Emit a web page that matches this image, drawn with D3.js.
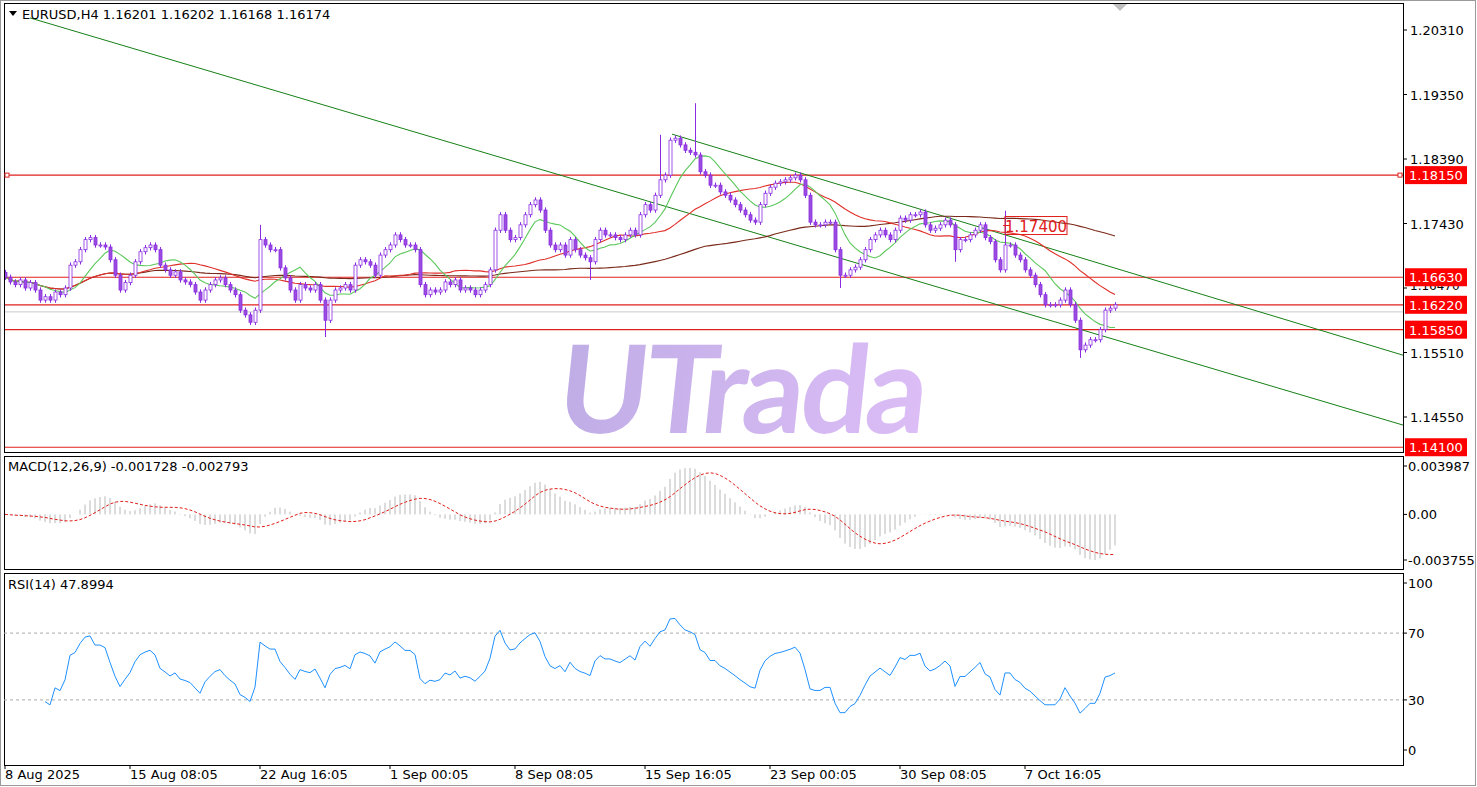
<!DOCTYPE html>
<html><head><meta charset="utf-8">
<script src="https://cdn.jsdelivr.net/npm/d3@7/dist/d3.min.js"></script>
<style>body{margin:0;background:#fff}svg{display:block;font-family:Tahoma,"DejaVu Sans",sans-serif}</style>
</head><body><svg id="c" width="1477" height="787"></svg>
<script>
const closes=[
1.1663,1.1656,1.1652,1.1659,1.1647,1.1655,1.1644,1.1629,1.1634,1.1629,
1.1641,1.1637,1.1647,1.1681,1.1686,1.1704,1.1719,1.1722,1.1711,1.1711,
1.1708,1.1689,1.1666,1.1644,1.1655,1.1666,1.1686,1.1701,1.1707,1.1711,
1.1704,1.1681,1.1674,1.1666,1.1671,1.1659,1.1656,1.1652,1.1641,1.1629,
1.1644,1.1652,1.1659,1.1662,1.1652,1.1644,1.1637,1.1614,1.1607,1.1596,
1.1614,1.1719,1.1711,1.1704,1.1704,1.1677,1.1662,1.1644,1.1629,1.1652,
1.1647,1.1644,1.1652,1.1629,1.1599,1.1629,1.1644,1.1647,1.1652,1.1644,
1.1681,1.1689,1.1686,1.1681,1.1666,1.1696,1.1704,1.1711,1.1726,1.1719,
1.1711,1.1711,1.1704,1.1652,1.1637,1.1644,1.1641,1.1644,1.1656,1.1652,
1.1659,1.1644,1.1647,1.1644,1.1637,1.1644,1.1652,1.1674,1.1733,1.1756,
1.1733,1.1719,1.1722,1.1741,1.1756,1.1771,1.1778,1.1763,1.1733,1.1711,
1.1704,1.1711,1.1696,1.1719,1.1704,1.1696,1.1692,1.1686,1.1719,1.1733,
1.1726,1.1726,1.1722,1.1719,1.1726,1.1733,1.1726,1.1756,1.1771,1.1763,
1.1785,1.1808,1.1815,1.1867,1.1870,1.1860,1.1852,1.1849,1.1845,1.1820,
1.1815,1.1800,1.1800,1.1790,1.1785,1.1778,1.1771,1.1763,1.1756,1.1748,
1.1745,1.1771,1.1788,1.1797,1.1803,1.1805,1.1808,1.1811,1.1815,1.1808,
1.1785,1.1745,1.1741,1.1741,1.1745,1.1745,1.1704,1.1666,1.1666,1.1674,
1.1678,1.1689,1.1704,1.1719,1.1726,1.1733,1.1726,1.1719,1.1733,1.1751,
1.1748,1.1756,1.1756,1.1760,1.1741,1.1733,1.1736,1.1741,1.1748,1.1741,
1.1704,1.1719,1.1719,1.1726,1.1733,1.1741,1.1722,1.1716,1.1689,1.1674,
1.1711,1.1711,1.1696,1.1689,1.1674,1.1666,1.1652,1.1637,1.1622,1.1622,
1.1622,1.1629,1.1644,1.1622,1.1599,1.1555,1.1562,1.1570,1.1570,1.1585,
1.1614,1.1617,1.1622];
const firstOpen=1.1670;
const bigHighs=[[51,1.1741],[138,1.1922],[131,1.1875],[200,1.1762]];
const bigLows=[[64,1.1574],[117,1.1659],[167,1.1647],[190,1.1686],[215,1.1543]];
const priceTicks=[1.2031,1.1935,1.1839,1.1743,1.1647,1.1551,1.1455];
const levels=[1.1815,1.1663,1.1622,1.1585,1.1410];
const alertLevel=1.1740;
const bidPrice=1.16174;
const trendLong=[[5,1.2049],[279.6,1.1443]];
const trendUpper=[[133.4,1.1876],[279.6,1.1547]];
const macdTicks=[[0.003987,"0.003987"],[0,"0.00"],[-0.003755,"-0.003755"]];
const rsiTicks=[100,70,30,0];
const dateIdx=[0,25,51,77,102,128,153,179,204];
const dateLabels=["8 Aug 2025","15 Aug 08:05","22 Aug 16:05","1 Sep 00:05","8 Sep 08:05","15 Sep 16:05","23 Sep 00:05","30 Sep 08:05","7 Oct 16:05"];
const title="EURUSD,H4  1.16201 1.16202 1.16168 1.16174";

const svg=d3.select("#c");
const L=4,R=1403;
const x=d3.scaleLinear().domain([0,279.6]).range([5,R]);
const y=d3.scaleLinear().domain([1.1455,1.2031]).range([417,30]);
const ym=d3.scaleLinear().domain([-0.003755,0.003987]).range([560,466]);
const yr=d3.scaleLinear().domain([0,100]).range([750,583]);

svg.append("rect").attr("x",0.5).attr("y",0.5).attr("width",1475).attr("height",785).attr("fill","none").attr("stroke","#999");
[[3,452],[456,569],[573,765]].forEach(([a,b])=>svg.append("rect").attr("x",L+0.5).attr("y",a+0.5).attr("width",R-L).attr("height",b-a).attr("fill","none").attr("stroke","#000"));
svg.append("clipPath").attr("id","cp").append("rect").attr("x",L+1).attr("y",4).attr("width",R-L-1).attr("height",447);
const g=svg.append("g").attr("clip-path","url(#cp)");

const grad=svg.append("defs").append("linearGradient").attr("id","wg").attr("x1","0").attr("x2","1");
grad.append("stop").attr("offset","0").attr("stop-color","#c0ade6");
grad.append("stop").attr("offset","1").attr("stop-color","#dcbdf6");
g.append("text").attr("x",738).attr("y",433).attr("text-anchor","middle").attr("font-size",122).attr("font-weight","bold").attr("font-family","Lato,sans-serif").attr("fill","url(#wg)").attr("letter-spacing",-4).attr("transform","skewX(-6) translate(45,0)").text("UTrada");

g.append("line").attr("x1",L).attr("x2",R).attr("y1",y(bidPrice)+4).attr("y2",y(bidPrice)+4).attr("stroke","#c8c8c8");
levels.forEach(v=>g.append("line").attr("x1",L).attr("x2",R).attr("y1",y(v)).attr("y2",y(v)).attr("stroke","#e0201c").attr("stroke-width",1.2));
[[7,y(levels[0])],[R-3,y(levels[0])]].forEach(([a,b])=>svg.append("rect").attr("x",a-2).attr("y",b-2).attr("width",4).attr("height",4).attr("fill","#fff").attr("stroke","#e0201c"));
[trendLong,trendUpper].forEach(t=>g.append("line").attr("x1",x(t[0][0])).attr("y1",y(t[0][1])).attr("x2",x(t[1][0])).attr("y2",y(t[1][1])).attr("stroke","#168016").attr("stroke-width",1));

function sma(a,n){return a.map((_,i)=>{const s=a.slice(Math.max(0,i-n+1),i+1);return d3.mean(s);});}
function ema(a,n){const k=2/(n+1);let e=a[0];return a.map(v=>e=v*k+e*(1-k));}
const line=d3.line().x((d,i)=>x(i)).y(d=>y(d));
[[sma(closes,90),"#7a2a1a"],[sma(closes,26),"#e0302a"],[sma(closes,9),"#5cc85c"]].forEach(([d,c])=>g.append("path").attr("d",line(d)).attr("fill","none").attr("stroke",c).attr("stroke-width",1.1));

const hiMap=new Map(bigHighs),loMap=new Map(bigLows);
closes.forEach((c,i)=>{
  const o=i?closes[i-1]:firstOpen;
  const hi=hiMap.has(i)?hiMap.get(i):Math.max(o,c)+0.0004;
  const lo=loMap.has(i)?loMap.get(i):Math.min(o,c)-0.0004;
  const cx=Math.round(x(i))+0.5;
  g.append("line").attr("x1",cx).attr("x2",cx).attr("y1",y(hi)).attr("y2",y(lo)).attr("stroke","#8a2be2");
  const t=y(Math.max(o,c)),b=y(Math.min(o,c));
  g.append("rect").attr("x",cx-1.5).attr("y",t).attr("width",3).attr("height",Math.max(1,b-t)).attr("fill",c>=o?"#fff":"#9b4de0").attr("stroke","#8a2be2").attr("stroke-width",0.8);
});

const ay=y(alertLevel);
g.append("line").attr("x1",1003).attr("x2",1010).attr("y1",ay).attr("y2",ay).attr("stroke","#e0201c");
g.append("rect").attr("x",1005).attr("y",ay-9).attr("width",62).attr("height",18).attr("fill","none").attr("stroke","#e0201c");
g.append("text").attr("x",1036).attr("y",ay+6).attr("text-anchor","middle").attr("font-size",15).attr("fill","#e0201c").text(alertLevel.toFixed(5));

svg.append("path").attr("d","M1113,4 L1127,4 L1120,11 Z").attr("fill","#c0c0c0");
svg.append("path").attr("d","M9,11 L17,11 L13,16 Z").attr("fill","#000");
svg.append("text").attr("x",22).attr("y",19).attr("font-size",13).text(title);

priceTicks.forEach(v=>{svg.append("line").attr("x1",R).attr("x2",R+4).attr("y1",y(v)).attr("y2",y(v)).attr("stroke","#000");
  svg.append("text").attr("x",1410).attr("y",y(v)+(v===1.1647?2:5)).attr("font-size",v===1.1647?12:13).text(v.toFixed(5));});
levels.forEach(v=>{svg.append("rect").attr("x",1405).attr("y",y(v)-9).attr("width",62).attr("height",18).attr("fill","#f00");
  svg.append("text").attr("x",1409).attr("y",y(v)+5).attr("font-size",13).attr("fill","#fff").text(v.toFixed(5));});

const e12=ema(closes,12),e26=ema(closes,26);
const macd=closes.map((_,i)=>e12[i]-e26[i]);
const sig=sma(macd,9);
macd.forEach((m,i)=>svg.append("line").attr("x1",x(i)).attr("x2",x(i)).attr("y1",ym(0)).attr("y2",ym(m)).attr("stroke","#b8b8b8"));
svg.append("path").attr("d",d3.line().x((d,i)=>x(i)).y(d=>ym(d))(sig)).attr("fill","none").attr("stroke","#e0201c").attr("stroke-dasharray","3,2");
svg.append("text").attr("x",8).attr("y",471).attr("font-size",13).text("MACD(12,26,9) -0.001728 -0.002793");
macdTicks.forEach(([v,t])=>{svg.append("line").attr("x1",R).attr("x2",R+4).attr("y1",ym(v)).attr("y2",ym(v)).attr("stroke","#000");
  svg.append("text").attr("x",1408).attr("y",ym(v)+5).attr("font-size",13).text(t);});

const ch=closes.map((c,i)=>i?c-closes[i-1]:0);
let ag=0,al=0;const rsi=[];
ch.forEach((d,i)=>{const gn=Math.max(d,0),ls=Math.max(-d,0);
  if(i<14){ag=(ag*i+gn)/(i+1);al=(al*i+ls)/(i+1);}else{ag=(ag*13+gn)/14;al=(al*13+ls)/14;}
  rsi.push(al===0?100:100-100/(1+ag/al));});
[70,30].forEach(v=>svg.append("line").attr("x1",L).attr("x2",R).attr("y1",yr(v)).attr("y2",yr(v)).attr("stroke","#aaa").attr("stroke-dasharray","3,3"));
svg.append("path").attr("d",d3.line().defined((d,i)=>i>=8).x((d,i)=>x(i)).y(d=>yr(d))(rsi)).attr("fill","none").attr("stroke","#1e90ff");
svg.append("text").attr("x",8).attr("y",589).attr("font-size",13).text("RSI(14) 47.8994");
rsiTicks.forEach(v=>{svg.append("line").attr("x1",R).attr("x2",R+4).attr("y1",yr(v)).attr("y2",yr(v)).attr("stroke","#000");
  svg.append("text").attr("x",1408).attr("y",yr(v)+5).attr("font-size",13).text(v);});

dateIdx.forEach((d,i)=>{svg.append("line").attr("x1",x(d)).attr("x2",x(d)).attr("y1",765).attr("y2",769).attr("stroke","#000");
  svg.append("text").attr("x",x(d)).attr("y",779).attr("font-size",13).text(dateLabels[i]);});
</script></body></html>
